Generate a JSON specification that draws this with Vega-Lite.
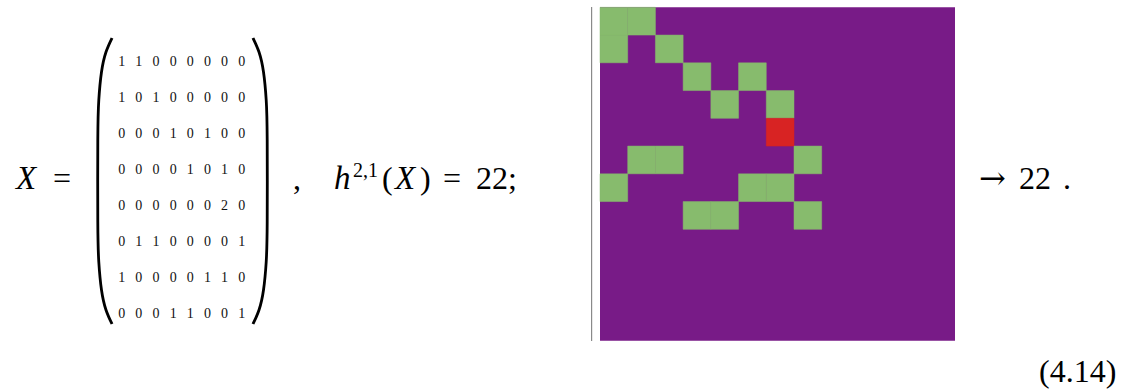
{
  "$schema": "https://vega.github.io/schema/vega-lite/v6.json",
  "width": 1123,
  "height": 389,
  "padding": 0,
  "autosize": {"type": "fit", "contains": "padding"},
  "background": "white",
  "config": {"view": {"stroke": null}},
  "datasets": {
    "X": [
      {"r":0,"c":0,"v":1},{"r":0,"c":1,"v":1},{"r":0,"c":2,"v":0},{"r":0,"c":3,"v":0},{"r":0,"c":4,"v":0},{"r":0,"c":5,"v":0},{"r":0,"c":6,"v":0},{"r":0,"c":7,"v":0},
      {"r":1,"c":0,"v":1},{"r":1,"c":1,"v":0},{"r":1,"c":2,"v":1},{"r":1,"c":3,"v":0},{"r":1,"c":4,"v":0},{"r":1,"c":5,"v":0},{"r":1,"c":6,"v":0},{"r":1,"c":7,"v":0},
      {"r":2,"c":0,"v":0},{"r":2,"c":1,"v":0},{"r":2,"c":2,"v":0},{"r":2,"c":3,"v":1},{"r":2,"c":4,"v":0},{"r":2,"c":5,"v":1},{"r":2,"c":6,"v":0},{"r":2,"c":7,"v":0},
      {"r":3,"c":0,"v":0},{"r":3,"c":1,"v":0},{"r":3,"c":2,"v":0},{"r":3,"c":3,"v":0},{"r":3,"c":4,"v":1},{"r":3,"c":5,"v":0},{"r":3,"c":6,"v":1},{"r":3,"c":7,"v":0},
      {"r":4,"c":0,"v":0},{"r":4,"c":1,"v":0},{"r":4,"c":2,"v":0},{"r":4,"c":3,"v":0},{"r":4,"c":4,"v":0},{"r":4,"c":5,"v":0},{"r":4,"c":6,"v":2},{"r":4,"c":7,"v":0},
      {"r":5,"c":0,"v":0},{"r":5,"c":1,"v":1},{"r":5,"c":2,"v":1},{"r":5,"c":3,"v":0},{"r":5,"c":4,"v":0},{"r":5,"c":5,"v":0},{"r":5,"c":6,"v":0},{"r":5,"c":7,"v":1},
      {"r":6,"c":0,"v":1},{"r":6,"c":1,"v":0},{"r":6,"c":2,"v":0},{"r":6,"c":3,"v":0},{"r":6,"c":4,"v":0},{"r":6,"c":5,"v":1},{"r":6,"c":6,"v":1},{"r":6,"c":7,"v":0},
      {"r":7,"c":0,"v":0},{"r":7,"c":1,"v":0},{"r":7,"c":2,"v":0},{"r":7,"c":3,"v":1},{"r":7,"c":4,"v":1},{"r":7,"c":5,"v":0},{"r":7,"c":6,"v":0},{"r":7,"c":7,"v":1}
    ]
  },
  "resolve": {"scale": {"x": "independent", "y": "independent", "color": "independent"}},
  "layer": [
    {
      "data": {"values": [{"x": 600, "x2": 955, "y": 7.3, "y2": 340.7}]},
      "mark": {"type": "rect", "fill": "#781b87"},
      "encoding": {
        "x": {"field": "x", "type": "quantitative", "scale": {"domain": [0, 1123], "range": [0, 1123]}, "axis": null},
        "x2": {"field": "x2"},
        "y": {"field": "y", "type": "quantitative", "scale": {"domain": [0, 389], "range": [0, 389]}, "axis": null},
        "y2": {"field": "y2"}
      }
    },
    {
      "data": {"name": "X"},
      "transform": [{"filter": "datum.v > 0"}],
      "mark": {"type": "rect", "strokeWidth": 0.5},
      "encoding": {
        "x": {"field": "c", "type": "ordinal", "scale": {"type": "band", "domain": [0,1,2,3,4,5,6,7], "range": [600, 821.7], "paddingInner": 0, "paddingOuter": 0}, "axis": null},
        "y": {"field": "r", "type": "ordinal", "scale": {"type": "band", "domain": [0,1,2,3,4,5,6,7], "range": [7.3, 229.3], "paddingInner": 0, "paddingOuter": 0}, "axis": null},
        "fill": {"field": "v", "type": "ordinal", "scale": {"domain": [0, 1, 2], "range": ["#781b87", "#87bb6d", "#d82323"]}, "legend": null},
        "stroke": {"field": "v", "type": "ordinal", "scale": {"domain": [0, 1, 2], "range": ["#781b87", "#87bb6d", "#d82323"]}, "legend": null}
      }
    },
    {
      "data": {"values": [{"x": 591.6, "y": 7.0, "y2": 341.0}]},
      "mark": {"type": "rule", "color": "#8a8a8a", "strokeWidth": 1.2},
      "encoding": {
        "x": {"field": "x", "type": "quantitative", "scale": {"domain": [0, 1123], "range": [0, 1123]}, "axis": null},
        "y": {"field": "y", "type": "quantitative", "scale": {"domain": [0, 389], "range": [0, 389]}, "axis": null},
        "y2": {"field": "y2"}
      }
    },
    {
      "data": {"name": "X"},
      "mark": {"type": "text", "font": "Liberation Serif", "fontSize": 14, "baseline": "middle", "align": "center", "color": "#111"},
      "encoding": {
        "x": {"field": "c", "type": "ordinal", "scale": {"type": "point", "domain": [0,1,2,3,4,5,6,7], "range": [121.7, 241.7], "padding": 0}, "axis": null},
        "y": {"field": "r", "type": "ordinal", "scale": {"type": "point", "domain": [0,1,2,3,4,5,6,7], "range": [61.7, 313.7], "padding": 0}, "axis": null},
        "text": {"field": "v", "type": "nominal"}
      }
    },
    {
      "data": {"values": [
        {"side": "L", "i": 0, "x": 112, "y": 38},
        {"side": "L", "i": 1, "x": 106, "y": 52},
        {"side": "L", "i": 2, "x": 101.5, "y": 72},
        {"side": "L", "i": 3, "x": 98.8, "y": 100},
        {"side": "L", "i": 4, "x": 97.8, "y": 140},
        {"side": "L", "i": 5, "x": 97.8, "y": 222},
        {"side": "L", "i": 6, "x": 98.8, "y": 262},
        {"side": "L", "i": 7, "x": 101.5, "y": 290},
        {"side": "L", "i": 8, "x": 106, "y": 310},
        {"side": "L", "i": 9, "x": 112, "y": 324},
        {"side": "R", "i": 0, "x": 253, "y": 38},
        {"side": "R", "i": 1, "x": 259, "y": 52},
        {"side": "R", "i": 2, "x": 263.5, "y": 72},
        {"side": "R", "i": 3, "x": 266.2, "y": 100},
        {"side": "R", "i": 4, "x": 267.2, "y": 140},
        {"side": "R", "i": 5, "x": 267.2, "y": 222},
        {"side": "R", "i": 6, "x": 266.2, "y": 262},
        {"side": "R", "i": 7, "x": 263.5, "y": 290},
        {"side": "R", "i": 8, "x": 259, "y": 310},
        {"side": "R", "i": 9, "x": 253, "y": 324}
      ]},
      "mark": {"type": "line", "color": "#000", "strokeWidth": 2.8, "interpolate": "natural", "strokeCap": "butt"},
      "encoding": {
        "x": {"field": "x", "type": "quantitative", "scale": {"domain": [0, 1123], "range": [0, 1123]}, "axis": null},
        "y": {"field": "y", "type": "quantitative", "scale": {"domain": [0, 389], "range": [0, 389]}, "axis": null},
        "detail": {"field": "side"},
        "order": {"field": "i", "type": "quantitative"}
      }
    },
    {
      "data": {"values": [
        {"t": "X", "x": 16, "y": 189},
        {"t": "h", "x": 334, "y": 189},
        {"t": "X", "x": 395, "y": 189}
      ]},
      "mark": {"type": "text", "font": "Liberation Serif", "fontStyle": "italic", "fontSize": 33, "align": "left", "baseline": "alphabetic", "color": "#000"},
      "encoding": {
        "x": {"field": "x", "type": "quantitative", "scale": {"domain": [0, 1123], "range": [0, 1123]}, "axis": null},
        "y": {"field": "y", "type": "quantitative", "scale": {"domain": [0, 389], "range": [0, 389]}, "axis": null},
        "text": {"field": "t"}
      }
    },
    {
      "data": {"values": [
        {"t": "=", "x": 53, "y": 189},
        {"t": ",", "x": 293, "y": 189},
        {"t": "(", "x": 382, "y": 189},
        {"t": ")", "x": 420, "y": 189},
        {"t": "=", "x": 443, "y": 189},
        {"t": "22;", "x": 476, "y": 189},
        {"t": "22", "x": 1019, "y": 189},
        {"t": ".", "x": 1063, "y": 189},
        {"t": "(4.14)", "x": 1039, "y": 382}
      ]},
      "mark": {"type": "text", "font": "Liberation Serif", "fontSize": 32, "align": "left", "baseline": "alphabetic", "color": "#000"},
      "encoding": {
        "x": {"field": "x", "type": "quantitative", "scale": {"domain": [0, 1123], "range": [0, 1123]}, "axis": null},
        "y": {"field": "y", "type": "quantitative", "scale": {"domain": [0, 389], "range": [0, 389]}, "axis": null},
        "text": {"field": "t"}
      }
    },
    {
      "data": {"values": [{"t": "→", "x": 979, "y": 189}]},
      "mark": {"type": "text", "font": "DejaVu Serif", "fontSize": 32, "align": "left", "baseline": "alphabetic", "color": "#000"},
      "encoding": {
        "x": {"field": "x", "type": "quantitative", "scale": {"domain": [0, 1123], "range": [0, 1123]}, "axis": null},
        "y": {"field": "y", "type": "quantitative", "scale": {"domain": [0, 389], "range": [0, 389]}, "axis": null},
        "text": {"field": "t"}
      }
    },
    {
      "data": {"values": [{"t": "2,1", "x": 353, "y": 177}]},
      "mark": {"type": "text", "font": "Liberation Serif", "fontSize": 20, "align": "left", "baseline": "alphabetic", "color": "#000"},
      "encoding": {
        "x": {"field": "x", "type": "quantitative", "scale": {"domain": [0, 1123], "range": [0, 1123]}, "axis": null},
        "y": {"field": "y", "type": "quantitative", "scale": {"domain": [0, 389], "range": [0, 389]}, "axis": null},
        "text": {"field": "t"}
      }
    }
  ]
}
